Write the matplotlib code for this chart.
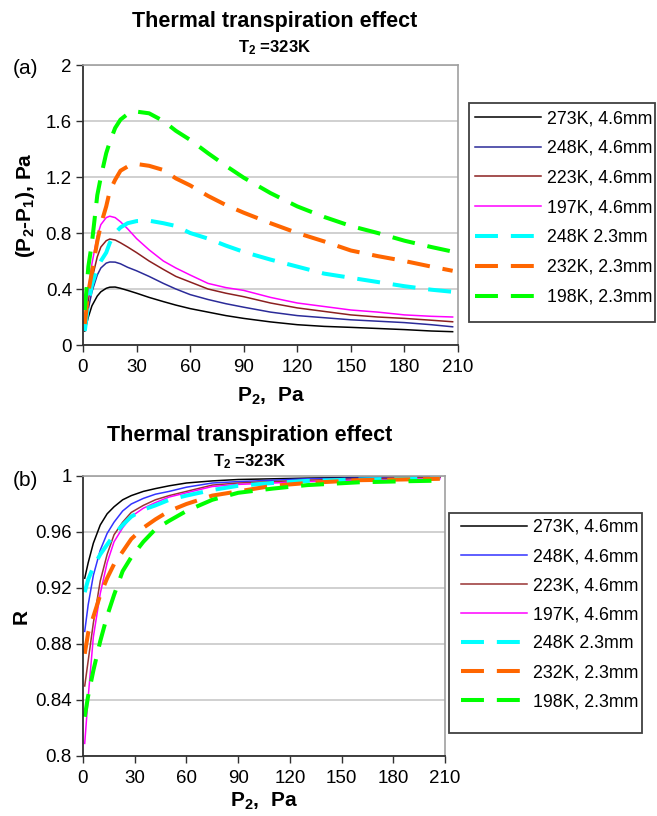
import matplotlib
matplotlib.use("Agg")
import matplotlib.pyplot as plt
from matplotlib.patches import Rectangle

plt.rcParams['font.family'] = ['Liberation Sans', 'DejaVu Sans']
plt.rcParams['mathtext.fontset'] = 'custom'
plt.rcParams['mathtext.rm'] = 'Liberation Sans:bold'
plt.rcParams['mathtext.default'] = 'rm'

labels = ["273K, 4.6mm", "248K, 4.6mm", "223K, 4.6mm", "197K, 4.6mm",
          "248K 2.3mm", "232K, 2.3mm", "198K, 2.3mm"]

# (a) pressure difference P2-P1 vs P2
xa = [1, 3, 5, 8, 10, 13, 15, 18, 21, 25, 30, 37, 45, 52, 60, 70, 80, 90, 105, 120, 135, 150, 165, 180, 195, 207]
dp_273 = [0.10, 0.20, 0.28, 0.35, 0.38, 0.405, 0.413, 0.414, 0.405, 0.39, 0.37, 0.34, 0.31, 0.285, 0.26, 0.235, 0.21, 0.19, 0.165, 0.145, 0.133, 0.126, 0.118, 0.11, 0.10, 0.095]
dp_248 = [0.11, 0.26, 0.38, 0.50, 0.55, 0.585, 0.593, 0.592, 0.58, 0.555, 0.53, 0.49, 0.44, 0.40, 0.36, 0.325, 0.295, 0.27, 0.235, 0.21, 0.195, 0.18, 0.17, 0.16, 0.145, 0.13]
dp_223 = [0.13, 0.32, 0.47, 0.63, 0.70, 0.745, 0.757, 0.75, 0.73, 0.70, 0.66, 0.60, 0.54, 0.49, 0.45, 0.40, 0.37, 0.345, 0.30, 0.265, 0.24, 0.215, 0.20, 0.19, 0.177, 0.166]
dp_197 = [0.15, 0.40, 0.58, 0.78, 0.86, 0.91, 0.92, 0.91, 0.88, 0.83, 0.76, 0.68, 0.60, 0.55, 0.50, 0.44, 0.41, 0.39, 0.34, 0.30, 0.275, 0.25, 0.235, 0.215, 0.205, 0.20]
dp_248s = [0.10, 0.30, 0.43, 0.55, 0.60, 0.66, 0.73, 0.80, 0.84, 0.87, 0.885, 0.888, 0.87, 0.85, 0.80, 0.76, 0.71, 0.665, 0.61, 0.56, 0.51, 0.48, 0.45, 0.42, 0.395, 0.38]
dp_232 = [0.15, 0.38, 0.52, 0.74, 0.86, 0.99, 1.10, 1.18, 1.245, 1.275, 1.293, 1.28, 1.25, 1.19, 1.14, 1.065, 1.00, 0.945, 0.87, 0.80, 0.74, 0.675, 0.635, 0.60, 0.56, 0.53]
dp_198 = [0.25, 0.56, 0.73, 1.07, 1.20, 1.37, 1.45, 1.55, 1.61, 1.65, 1.667, 1.655, 1.60, 1.53, 1.465, 1.37, 1.28, 1.195, 1.085, 0.99, 0.915, 0.85, 0.80, 0.745, 0.70, 0.667]

# (b) ratio R vs P2
xb = [1, 3, 6, 10, 14, 18, 23, 28, 35, 42, 50, 60, 75, 90, 110, 130, 160, 185, 207]
r_273 = [0.927, 0.938, 0.952, 0.965, 0.973, 0.978, 0.983, 0.986, 0.989, 0.991, 0.993, 0.995, 0.9965, 0.9975, 0.998, 0.9985, 0.999, 0.9993, 0.9995]
r_248 = [0.889, 0.908, 0.929, 0.947, 0.959, 0.967, 0.975, 0.980, 0.984, 0.987, 0.989, 0.992, 0.995, 0.996, 0.997, 0.998, 0.9985, 0.999, 0.9993]
r_223 = [0.850, 0.868, 0.895, 0.925, 0.944, 0.958, 0.967, 0.974, 0.979, 0.983, 0.986, 0.989, 0.9935, 0.995, 0.996, 0.997, 0.998, 0.9985, 0.999]
r_197 = [0.809, 0.842, 0.885, 0.916, 0.938, 0.953, 0.963, 0.971, 0.977, 0.981, 0.985, 0.988, 0.9925, 0.994, 0.995, 0.996, 0.997, 0.9975, 0.998]
r_248s = [0.917, 0.926, 0.935, 0.944, 0.951, 0.958, 0.965, 0.971, 0.976, 0.979, 0.983, 0.986, 0.990, 0.993, 0.995, 0.9965, 0.9975, 0.998, 0.9985]
r_232 = [0.873, 0.888, 0.8995, 0.915, 0.927, 0.937, 0.946, 0.955, 0.963, 0.969, 0.975, 0.980, 0.986, 0.989, 0.993, 0.995, 0.997, 0.9975, 0.998]
r_198 = [0.828, 0.843, 0.861, 0.882, 0.900, 0.915, 0.932, 0.942, 0.953, 0.962, 0.968, 0.975, 0.983, 0.988, 0.991, 0.9935, 0.9955, 0.9962, 0.9967]

colors_a = ['black', '#2b2b99', '#8b2020', '#ff00ff', '#00ffff', '#ff6600', '#00ff00']
colors_b = ['black', '#3333ff', '#993333', '#ff00ff', '#00ffff', '#ff6600', '#00ff00']
dp_all = [dp_273, dp_248, dp_223, dp_197, dp_248s, dp_232, dp_198]
r_all = [r_273, r_248, r_223, r_197, r_248s, r_232, r_198]

W, H = 657, 816
fig = plt.figure(figsize=(W / 100, H / 100), dpi=100)
axa = fig.add_axes([83 / W, 1 - 345 / H, 375 / W, 280 / H])
axb = fig.add_axes([83 / W, 1 - 756 / H, 362 / W, 280 / H])


def draw(ax, x, ys, colors):
    for i, y in enumerate(ys):
        if i < 4:
            ax.plot(x, y, color=colors[i], lw=1.1, label=labels[i])
        else:
            ax.plot(x, y, color=colors[i], lw=2.9, dashes=(5.7, 3.2), label=labels[i])
    ax.set_xlim(0, 210)
    ax.set_xticks(range(0, 211, 30))
    ax.grid(axis='y', color='#c8c8c8', lw=1.2)
    ax.set_axisbelow(True)
    for s in ('top', 'right'):
        ax.spines[s].set_color('#a0a0a0')
        ax.spines[s].set_linewidth(1.2)
    for s in ('left', 'bottom'):
        ax.spines[s].set_color('#303030')
        ax.spines[s].set_linewidth(1.3)
    ax.tick_params(labelsize=13.5, length=5, width=1, color='#303030', pad=3)
    ax.tick_params(axis='x', pad=5)


draw(axa, xa, dp_all, colors_a)
axa.set_ylim(0, 2)
axa.set_yticks([0, 0.4, 0.8, 1.2, 1.6, 2])
axa.set_yticklabels(['0', '0.4', '0.8', '1.2', '1.6', '2'])
axa.set_xlabel('P$_2$,  Pa', fontsize=15, fontweight='bold', labelpad=7)
axa.set_ylabel('(P$_2$-P$_1$), Pa', fontsize=15, fontweight='bold', labelpad=6)

draw(axb, xb, r_all, colors_b)
axb.set_ylim(0.8, 1)
axb.set_yticks([0.8, 0.84, 0.88, 0.92, 0.96, 1])
axb.set_yticklabels(['0.8', '0.84', '0.88', '0.92', '0.96', '1'])
axb.set_xlabel('P$_2$,  Pa', fontsize=15, fontweight='bold', labelpad=3)
axb.set_ylabel('R', fontsize=15, fontweight='bold', labelpad=3)

# titles and panel tags, positions in pixels from the top-left
for xc, y_t, y_s, tag, y_tag in ((275, 22, 48, '(a)', 68), (250, 435, 462, '(b)', 480)):
    fig.text(xc / W, 1 - y_t / H, 'Thermal transpiration effect', ha='center', va='center',
             fontsize=15.5, fontweight='bold')
    fig.text(xc / W, 1 - y_s / H, 'T$_2$ =323K', ha='center', va='center', fontsize=12, fontweight='bold')
    fig.text(13 / W, 1 - y_tag / H, tag, ha='left', va='center', fontsize=15)

# legends with square frames
for ax, hx, ty, spacing, box in ((axa, 475, 110, 0.72, (469, 103, 655, 322)),
                                 (axb, 461, 519, 0.68, (449, 513, 642, 733))):
    fig.legend(*ax.get_legend_handles_labels(), loc='upper left',
               bbox_to_anchor=(hx / W, 1 - ty / H), fontsize=12.8, handlelength=3.7,
               handletextpad=0.35, labelspacing=spacing, frameon=False,
               borderpad=0, borderaxespad=0)
    x0, y0, x1, y1 = box
    fig.patches.append(Rectangle((x0 / W, 1 - y1 / H), (x1 - x0) / W, (y1 - y0) / H,
                                 transform=fig.transFigure, fill=False,
                                 edgecolor='#404040', lw=1.3))

fig.savefig('out.png', dpi=100)
